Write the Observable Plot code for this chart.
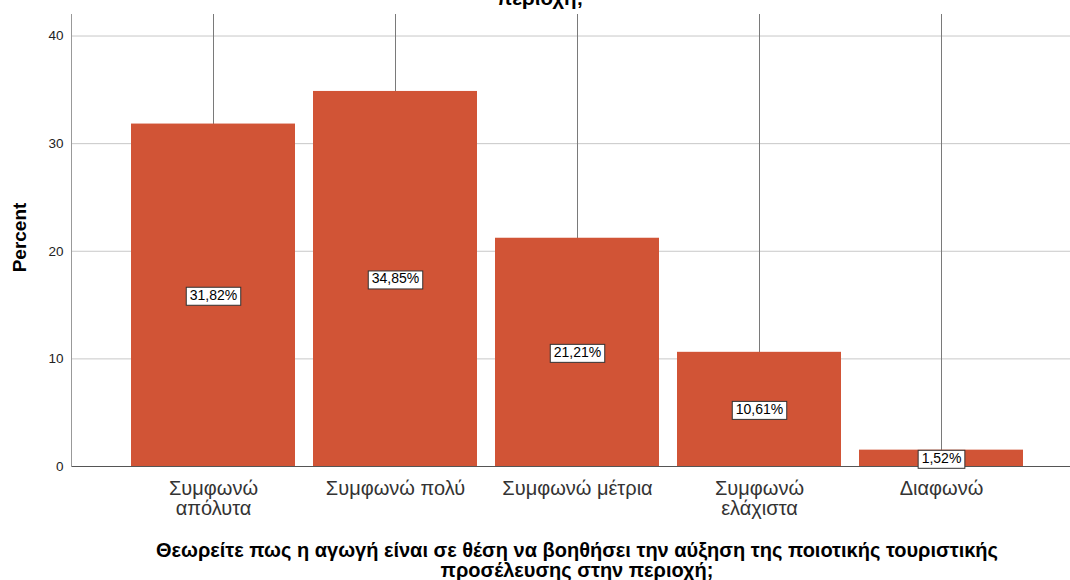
<!DOCTYPE html>
<html>
<head>
<meta charset="utf-8">
<script src="https://cdn.jsdelivr.net/npm/d3@7"></script>
<script src="https://cdn.jsdelivr.net/npm/@observablehq/plot@0.6"></script>
<style>
  body { margin: 0; background: #fff; font-family: "Liberation Sans", Arial, sans-serif; }
  #wrap { position: relative; width: 1070px; height: 580px; overflow: hidden; }
  #toptitle { position: absolute; left: 0; width: 1080px; top: -12px; text-align: center; font-weight: bold; font-size: 20.5px; line-height: 20px; color: #000; white-space: nowrap; }
  #xtitle { position: absolute; left: 0; width: 1154px; top: 540px; text-align: center; font-weight: bold; font-size: 20px; line-height: 20px; color: #000; white-space: nowrap; }
  #chart { position: absolute; left: 0; top: 0; }
</style>
</head>
<body>
<div id="wrap">
  <div id="chart"></div>
  <div id="toptitle">περιοχή;</div>
  <div id="xtitle">Θεωρείτε πως η αγωγή είναι σε θέση να βοηθήσει την αύξηση της ποιοτικής τουριστικής<br>προσέλευσης στην περιοχή;</div>
</div>
<script>
const categories = ["Συμφωνώ απόλυτα", "Συμφωνώ πολύ", "Συμφωνώ μέτρια", "Συμφωνώ ελάχιστα", "Διαφωνώ"];
const tickLabels = ["Συμφωνώ\nαπόλυτα", "Συμφωνώ πολύ", "Συμφωνώ μέτρια", "Συμφωνώ\nελάχιστα", "Διαφωνώ"];
const percents = [31.82, 34.85, 21.21, 10.61, 1.52];
const yTicks = [0, 10, 20, 30, 40];

const data = categories.map((c, i) => ({
  cat: c,
  pct: percents[i],
  label: percents[i].toFixed(2).replace(".", ",") + "%"
}));

const chart = Plot.plot({
  width: 1070,
  height: 530,
  marginLeft: 71,
  marginRight: 0,
  marginTop: 14,
  marginBottom: 64,
  style: { fontFamily: "'Liberation Sans', Arial, sans-serif", color: "#222", background: "#fff" },
  x: { domain: categories, range: [130, 1023], paddingInner: 0.1, paddingOuter: 0, axis: null },
  y: { domain: [0, 42], axis: null },
  marks: [
    Plot.ruleY(yTicks.filter(d => d > 0), { stroke: "#c8c8c8", strokeWidth: 1 }),
    Plot.ruleX(categories, { x: d => d, stroke: "#7a7a7a", strokeWidth: 1 }),
    Plot.barY(data, { x: "cat", y: "pct", fill: "#d15436" }),
    Plot.ruleY([0], { stroke: "#555", strokeWidth: 1 }),
    Plot.frame({ anchor: "left", stroke: "#999" }),
    Plot.axisY(yTicks, { tickSize: 0, tickPadding: 8, fontSize: 13.5, label: null }),
    Plot.axisX({
      tickSize: 0, tickPadding: 14, fontSize: 20, lineHeight: 1.0, fill: "#333",
      tickFormat: d => tickLabels[categories.indexOf(d)], label: null
    }),
    Plot.text(data, { x: "cat", y: d => d.pct / 2, text: "label", fontSize: 14, fill: "#000" }),
    Plot.text(["Percent"], { frameAnchor: "left", textAnchor: "middle", dx: -52, dy: -3, rotate: -90, fontWeight: "bold", fontSize: 19, fill: "#000" })
  ]
});
document.getElementById("chart").append(chart);

// draw boxes behind value labels
const svgNS = "http://www.w3.org/2000/svg";
const labelSet = new Set(data.map(d => d.label));
Array.from(chart.querySelectorAll("text")).filter(t => labelSet.has(t.textContent)).forEach(t => {
  const b = t.getBBox();
  const r = document.createElementNS(svgNS, "rect");
  r.setAttribute("x", b.x - 3.5);
  r.setAttribute("y", b.y + 0.5);
  r.setAttribute("width", b.width + 7);
  r.setAttribute("height", b.height + 2);
  r.setAttribute("fill", "#fff");
  r.setAttribute("stroke", "#333");
  r.setAttribute("stroke-width", 1);
  const tr = t.getAttribute("transform");
  if (tr) r.setAttribute("transform", tr);
  t.parentNode.insertBefore(r, t);
});
</script>
</body>
</html>
